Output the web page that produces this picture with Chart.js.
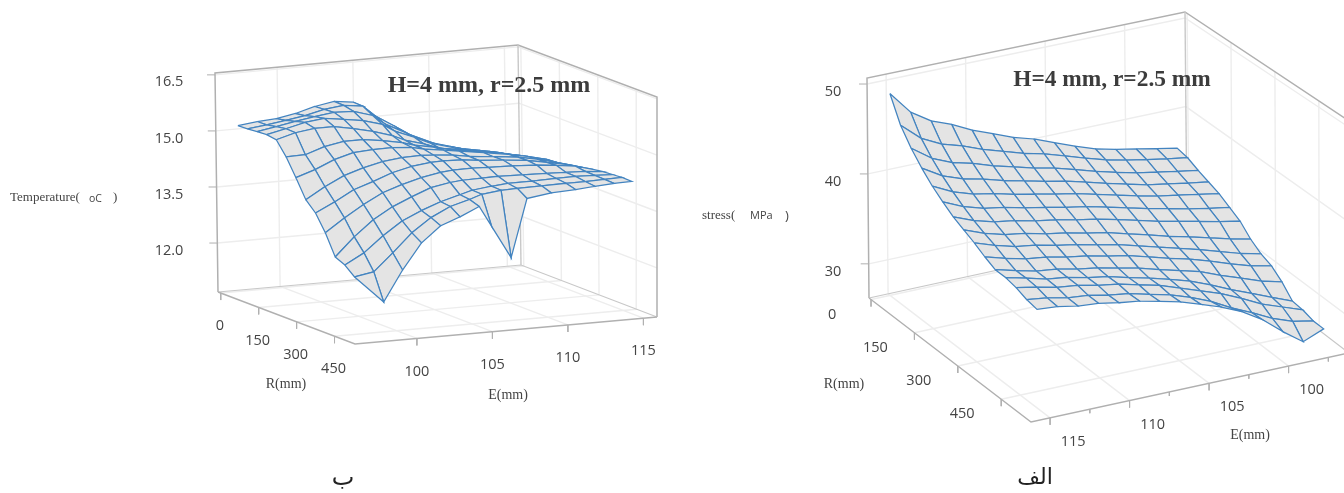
<!DOCTYPE html>
<html><head><meta charset="utf-8">
<style>html,body{margin:0;padding:0;background:#fff}#w{width:1344px;height:493px;position:relative}</style>
<script src="https://cdn.jsdelivr.net/npm/chart.js@4"></script>
</head><body><div id="w"><canvas id="c" width="1344" height="493"></canvas></div>
<script>
// ---------- data ----------
const tempR = [-11,27,65,103,141,179,217,255,293,331,369,407,445,483];
const tempE = [97.36,98.63,99.9,101.17,102.44,103.72,104.99,105.8,107.07,108.14,109.74,111.34,112.61,113.88,115.04];
const tempZ = [
[15.09,15.15,15.18,15.27,15.41,15.5,15.43,15.11,14.8,14.51,14.2,14.02,13.86,13.71,13.53],
[15.1,15.16,15.23,15.31,15.43,15.49,15.42,15.13,14.81,14.53,14.24,14.06,13.91,13.75,13.6],
[15.12,15.21,15.3,15.38,15.45,15.43,15.27,15.01,14.75,14.49,14.26,14.11,13.95,13.82,13.7],
[15.14,15.25,15.37,15.43,15.36,15.28,15.13,14.92,14.71,14.51,14.33,14.2,14.05,13.92,13.77],
[15.1,15.24,15.31,15.31,15.21,15.09,14.93,14.78,14.63,14.47,14.37,14.27,14.15,14.02,13.84],
[14.74,14.75,14.92,15.01,15.01,14.94,14.84,14.74,14.64,14.54,14.44,14.34,14.22,14.09,13.91],
[14.28,14.45,14.67,14.81,14.84,14.85,14.81,14.73,14.66,14.59,14.49,14.39,14.29,14.16,13.98],
[13.79,14.09,14.34,14.5,14.62,14.68,14.69,14.67,14.62,14.55,14.48,14.41,14.31,14.18,14.05],
[13.53,13.78,14.06,14.23,14.42,14.54,14.6,14.61,14.59,14.54,14.49,14.42,14.32,14.22,14.09],
[13.1,13.45,13.76,14.03,14.2,14.34,14.43,14.46,14.47,14.45,14.43,14.39,14.34,14.27,14.14],
[12.55,13.04,13.45,13.75,13.97,14.17,14.26,14.29,14.3,14.31,14.29,14.27,14.25,14.23,14.18],
[12.43,12.71,13.12,13.47,13.7,13.89,14.03,14.12,14.18,14.22,14.22,14.23,14.24,14.22,14.2],
[12.21,12.3,12.76,13.25,13.61,13.86,14.0,14.11,14.17,14.18,14.19,14.2,14.2,14.21,14.22],
[null,11.59,12.4,13.08,13.49,13.68,13.91,13.35,12.47,14.01,14.1,14.13,14.17,14.2,14.21]];
const stressR = [0,36,72,108,144,180,216,252,288,324,360,396,432,468,504];
const stressE = [114.9,113.61,112.33,111.04,109.76,108.47,107.19,105.9,104.61,103.33,102.04,100.76,99.47,98.19,96.9];
const stressZ = [
[48.64,46.09,44.64,43.76,42.64,41.76,40.87,40.2,39.31,38.42,37.64,37.09,36.64,36.2,35.76],
[45.98,44.04,42.92,42.23,41.35,40.66,39.95,39.4,38.67,37.93,37.26,36.74,36.3,35.9,35.53],
[44.31,42.7,41.73,41.15,40.39,39.79,39.16,38.67,38.0,37.33,36.71,36.16,35.75,35.35,34.98],
[42.98,41.62,40.79,40.28,39.62,39.1,38.54,38.08,37.46,36.85,36.25,35.7,35.3,34.9,34.53],
[41.87,40.72,39.98,39.54,38.95,38.49,37.98,37.55,36.98,36.4,35.82,35.3,34.9,34.5,34.09],
[40.98,39.95,39.27,38.87,38.32,37.89,37.39,36.97,36.41,35.84,35.25,34.75,34.25,33.8,33.42],
[40.2,39.28,38.65,38.28,37.75,37.35,36.86,36.44,35.88,35.31,34.7,34.2,33.7,33.2,32.76],
[39.64,38.75,38.1,37.74,37.19,36.78,36.25,35.8,35.18,34.56,33.9,33.35,32.75,32.15,31.64],
[39.09,38.28,37.65,37.3,36.76,36.35,35.82,35.35,34.7,34.06,33.45,32.8,32.1,31.4,30.87],
[38.42,37.73,37.16,36.84,36.33,35.96,35.44,34.98,34.34,33.7,33.1,32.4,31.6,30.9,30.42],
[37.87,37.25,36.69,36.39,35.89,35.51,34.98,34.49,33.82,33.2,32.6,31.7,30.9,30.1,29.53],
[37.87,37.29,36.67,36.36,35.81,35.4,34.8,34.24,33.6,32.9,32.0,31.0,30.1,29.2,28.31],
[37.64,37.18,36.62,36.34,35.82,35.44,34.85,34.29,33.5,32.7,31.9,30.9,29.8,29.0,28.2],
[37.2,36.86,36.35,36.1,35.61,35.26,34.68,34.12,33.33,32.4,31.2,30.2,29.1,28.3,27.87],
[36.98,36.76,36.31,36.09,35.64,35.31,34.76,34.2,33.42,32.64,31.64,30.31,28.53,26.98,27.87]];
const tempRTicks = [0,150,300,450];
const tempETicks = [100,105,110,115];
const tempZTicks = [12,13.5,15,16.5];
const tempZLabels = ['12.0','13.5','15.0','16.5'];
const stressRTicks = [0,150,300,450];
const stressETicks = [100,105,110,115];
const stressEMinor = [97.5,102.5,107.5,112.5];
const stressZTicks = [30,40,50];
const stressZLabels = ['30','40','50'];

// ---------- view geometry of each 3-D box (A: Rmin/first E, B: Rmax/first E, C: Rmax/last E, D: Rmin/last E) ----------
const tempBox = {rMin:-11,rMax:531,eA:95.9,eD:115.9,zMin:10.69,zMax:16.55,
  floor:{A:[218,292],B:[355,344],C:[657,317],D:[521,265]}, top:{A:[215,73],B:[352,125],C:[657,97],D:[518,45]}};
const stressBox = {rMin:-7,rMax:553,eA:116.2,eD:96.2,zMin:26.2,zMax:50.67,
  floor:{A:[869,298],B:[1031,422],C:[1349,353],D:[1187,229]}, top:{A:[867,78],B:[1030,202],C:[1349,121],D:[1185,12]}};

function bil(q,r,e,k){return q.A[k]*(1-r)*(1-e)+q.B[k]*r*(1-e)+q.C[k]*r*e+q.D[k]*(1-r)*e;}
function project(b,R,E,Z){
  const r=(R-b.rMin)/(b.rMax-b.rMin), e=(E-b.eA)/(b.eD-b.eA), z=(Z-b.zMin)/(b.zMax-b.zMin);
  return {x:bil(b.floor,r,e,0)*(1-z)+bil(b.top,r,e,0)*z, y:bil(b.floor,r,e,1)*(1-z)+bil(b.top,r,e,1)*z};
}
const datasets=[];
function line(pts,color,w){datasets.push({data:pts,showLine:true,pointRadius:0,borderColor:color,borderWidth:w,fill:false,tension:0});}
function quad(pts){datasets.push({data:pts.concat([pts[0]]),showLine:true,pointRadius:0,borderColor:'#4384c0',borderWidth:1.25,backgroundColor:'#e4e4e4',fill:'shape',tension:0});}
const GRID='#ededed', EDGE='#b0b0b0';
function box(b,rT,eT,zT,eMinor){
  const P=(R,E,Z)=>project(b,R,E,Z);
  rT.forEach(R=>{line([P(R,b.eA,b.zMin),P(R,b.eD,b.zMin)],GRID,1.4);
    line([P(R,b.eD,b.zMin),P(R,b.eD,b.zMax)],GRID,1.4);});
  eT.forEach(E=>{line([P(b.rMin,E,b.zMin),P(b.rMax,E,b.zMin)],GRID,1.4);line([P(b.rMin,E,b.zMin),P(b.rMin,E,b.zMax)],GRID,1.4);});
  zT.forEach(Z=>{line([P(b.rMin,b.eA,Z),P(b.rMin,b.eD,Z),P(b.rMax,b.eD,Z)],GRID,1.4);});
  line([P(b.rMin,b.eA,b.zMin),P(b.rMin,b.eA,b.zMax),P(b.rMin,b.eD,b.zMax),P(b.rMax,b.eD,b.zMax),P(b.rMax,b.eD,b.zMin)],EDGE,1.5);
  line([P(b.rMin,b.eD,b.zMin),P(b.rMin,b.eD,b.zMax)],'#c8c8c8',1.4);
  line([P(b.rMin,b.eA,b.zMin),P(b.rMin,b.eD,b.zMin),P(b.rMax,b.eD,b.zMin)],'#c8c8c8',1.2);
  line([P(b.rMin,b.eA,b.zMin),P(b.rMax,b.eA,b.zMin),P(b.rMax,b.eD,b.zMin)],EDGE,1.4);
  const off=(p,dx,dy)=>({x:p.x+dx,y:p.y+dy});
  rT.forEach(R=>{const p=P(R,b.eA,b.zMin);line([p,off(p,0,7)],EDGE,1);});
  eT.forEach(E=>{const p=P(b.rMax,E,b.zMin);line([p,off(p,0,7)],EDGE,1);});
  (eMinor||[]).forEach(E=>{const p=P(b.rMax,E,b.zMin);line([p,off(p,0,4)],EDGE,1);});
  zT.forEach(Z=>{const p=P(b.rMin,b.eA,Z);line([off(p,-8,0),p],EDGE,1);});
}
function surface(b,Rs,Es,Zs){
  for(let i=0;i<Rs.length-1;i++) for(let j=Es.length-2;j>=0;j--){
    const cell=[[i,j],[i+1,j],[i+1,j+1],[i,j+1]].filter(([a,c])=>Zs[a][c]!==null);
    quad(cell.map(([a,c])=>project(b,Rs[a],Es[c],Zs[a][c])));
  }
}
box(tempBox,tempRTicks,tempETicks,tempZTicks);
surface(tempBox,tempR,tempE,tempZ);
box(stressBox,stressRTicks,stressETicks,stressZTicks,stressEMinor);
surface(stressBox,stressR,stressE,stressZ);
datasets.reverse(); // Chart.js paints the first dataset last

const SANS='"Open Sans","Noto Sans",sans-serif', SERIF='"Liberation Serif",serif';
const textPlugin={id:'texts',afterDatasetsDraw(chart){
  const ctx=chart.ctx; ctx.save(); ctx.textBaseline='middle';
  const T=(s,x,y,font,col,al)=>{ctx.font=font;ctx.fillStyle=col||'#444';ctx.textAlign=al||'center';ctx.fillText(s,x,y);};
  const TF='14.5px '+SANS;
  tempRTicks.forEach(R=>{const p=project(tempBox,R,tempBox.eA,tempBox.zMin);T(String(R),p.x-1,p.y+33,TF);});
  tempETicks.forEach(E=>{const p=project(tempBox,tempBox.rMax,E,tempBox.zMin);T(String(E),p.x,p.y+33,TF);});
  tempZTicks.forEach((Z,i)=>{const p=project(tempBox,tempBox.rMin,tempBox.eA,Z);T(tempZLabels[i],169,p.y+7.5,TF);});
  stressRTicks.forEach(R=>{const p=project(stressBox,R,stressBox.eA,stressBox.zMin);T(String(R),p.x-39,p.y+15,TF);});
  stressETicks.forEach(E=>{const p=project(stressBox,stressBox.rMax,E,stressBox.zMin);T(String(E),p.x+23,p.y+24,TF);});
  stressZTicks.forEach((Z,i)=>{const p=project(stressBox,stressBox.rMin,stressBox.eA,Z);T(stressZLabels[i],833,p.y+8,TF);});
  const AX='14px '+SERIF;
  T('R(mm)',286,384,AX,'#444'); T('E(mm)',508,395,AX,'#444');
  T('R(mm)',844,384,AX,'#444'); T('E(mm)',1250,435,AX,'#444');
  T('Temperature(',10,198,'13px '+SERIF,'#444','left');
  T('oC',89,199,'10.5px '+SANS,'#444','left');
  T(')',113,198,'13px '+SERIF,'#444','left');
  T('stress(',702,216,'13px '+SERIF,'#444','left');
  T('MPa',750,216,'11px '+SANS,'#444','left');
  T(')',785,216,'13px '+SANS,'#444','left');
  T('H=4 mm, r=2.5 mm',489,86,'bold 24px '+SERIF,'#3c3c3c');
  T('H=4 mm, r=2.5 mm',1112,80,'bold 23.4px '+SERIF,'#3c3c3c');
  T('ب',343,479,'24px "DejaVu Sans"','#222');
  T('الف',1035,478,'22px "DejaVu Sans"','#222');
  ctx.restore();
}};
new Chart(document.getElementById('c'),{type:'scatter',data:{datasets},plugins:[textPlugin],options:{
  responsive:false,animation:false,devicePixelRatio:1,layout:{padding:0},
  plugins:{legend:{display:false},tooltip:{enabled:false},title:{display:false}},
  scales:{x:{type:'linear',min:0,max:1344,display:false},y:{type:'linear',min:0,max:493,reverse:true,display:false}}
}});
</script></body></html>
